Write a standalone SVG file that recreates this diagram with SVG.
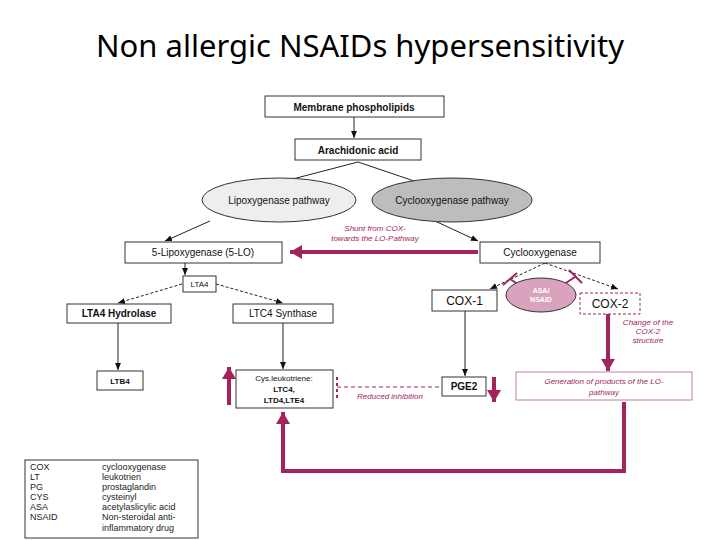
<svg xmlns="http://www.w3.org/2000/svg" width="720" height="540" viewBox="0 0 720 540">
<defs>
<marker id="a" markerWidth="8" markerHeight="8" refX="7" refY="4" orient="auto" markerUnits="userSpaceOnUse"><path d="M0,1 L7,4 L0,7z" fill="#111"/></marker>
<marker id="m" markerWidth="14" markerHeight="14" refX="12" refY="7" orient="auto" markerUnits="userSpaceOnUse"><path d="M0,0 L12,7 L0,14z" fill="#a3235f"/></marker>
</defs>
<style>
.b{fill:#fff;stroke:#333;stroke-width:1}
.t{font-family:"Liberation Sans",Arial,sans-serif;font-size:10px;font-weight:bold;fill:#111;text-anchor:middle}
.n{font-weight:normal}
.s8{font-size:8px}
.s12{font-size:12px}
.i{font-family:"Liberation Sans",Arial,sans-serif;font-size:8px;font-style:italic;fill:#a3235f;text-anchor:middle}
.l{stroke:#222;stroke-width:1;fill:none}
.d{stroke:#222;stroke-width:1;fill:none;stroke-dasharray:3,2}
.p{stroke:#a3235f;stroke-width:4;fill:none}
.g{font-family:"Liberation Sans",Arial,sans-serif;font-size:9px;fill:#222}
</style>
<rect width="720" height="540" fill="#fff"/>
<text x="360" y="57" font-family="Noto Sans,sans-serif" font-size="31" text-anchor="middle" fill="#000">Non allergic NSAIDs hypersensitivity</text>
<g id="connectors">
<line class="l" x1="354" y1="117" x2="354" y2="138" marker-end="url(#a)"/>
<line class="l" x1="358" y1="162" x2="285" y2="181"/>
<line class="l" x1="358" y1="162" x2="420" y2="183"/>
<line class="l" x1="210" y1="221" x2="165" y2="241" marker-end="url(#a)"/>
<line class="l" x1="435" y1="221" x2="478" y2="241" marker-end="url(#a)"/>
<line class="p" x1="478" y1="252" x2="290" y2="252" marker-end="url(#m)"/>
<line class="l" x1="185" y1="263" x2="185" y2="275" marker-end="url(#a)"/>
<line class="d" x1="182" y1="284" x2="118" y2="303" marker-end="url(#a)"/>
<line class="d" x1="216" y1="284" x2="283" y2="303" marker-end="url(#a)"/>
<line class="l" x1="118" y1="323" x2="118" y2="370" marker-end="url(#a)"/>
<line class="l" x1="283" y1="323" x2="283" y2="369" marker-end="url(#a)"/>
<line class="p" x1="229" y1="405" x2="229" y2="367" marker-end="url(#m)"/>
<polyline class="p" points="624,402 624,471 283,471 283,412" marker-end="url(#m)"/>
<line x1="337" y1="387" x2="441" y2="387" stroke="#a3235f" stroke-width="1" stroke-dasharray="4,3"/>
<line x1="337" y1="377" x2="337" y2="398" stroke="#a3235f" stroke-width="2" stroke-dasharray="3,3"/>
<line class="p" x1="494" y1="377" x2="494" y2="402" marker-end="url(#m)"/>
<line class="l" x1="465" y1="311" x2="465" y2="376" marker-end="url(#a)"/>
<line class="d" x1="545" y1="263" x2="490" y2="289" marker-end="url(#a)"/>
<line class="d" x1="545" y1="263" x2="618" y2="289" marker-end="url(#a)"/>
<path d="M530,292 L510,279 M503,285 L517,273" stroke="#a3235f" stroke-width="2" fill="none"/>
<path d="M552,292 L575,277 M569,270 L582,283" stroke="#a3235f" stroke-width="2" fill="none"/>
<line class="p" x1="608" y1="314" x2="608" y2="371" marker-end="url(#m)"/>
</g>
<text class="i" x="375" y="231">Shunt from COX-</text>
<text class="i" x="375" y="241">towards the LO-Pathway</text>
<text class="i" x="390" y="399">Reduced inhibition</text>
<text class="i" x="648" y="325">Change of the</text>
<text class="i" x="648" y="334">COX-2</text>
<text class="i" x="648" y="343">structure</text>
<g id="mp"><rect class="b" x="265" y="96" width="179" height="21"/><text class="t" x="354" y="110.5">Membrane phospholipids</text></g>
<g id="aa"><rect class="b" x="295" y="139" width="126" height="21"/><text class="t" x="358" y="153.5">Arachidonic acid</text></g>
<g id="lp"><ellipse cx="279" cy="200" rx="77" ry="22" fill="#eee" stroke="#333"/><text class="t n" x="279" y="203.5">Lipoxygenase pathway</text></g>
<g id="cp"><ellipse cx="452" cy="200" rx="80" ry="22" fill="#bdbdbd" stroke="#333"/><text class="t n" x="452" y="203.5">Cyclooxygenase pathway</text></g>
<g id="lo"><rect class="b" x="125" y="242" width="157" height="21"/><text class="t n" x="203" y="256">5-Lipoxygenase (5-LO)</text></g>
<g id="cox"><rect class="b" x="480" y="242" width="120" height="21"/><text class="t n" x="540" y="256">Cyclooxygenase</text></g>
<g id="lta4"><rect class="b" x="183" y="276" width="33" height="16"/><text class="t n s8" x="199.5" y="287">LTA4</text></g>
<g id="lh"><rect class="b" x="67" y="304" width="104" height="19"/><text class="t" x="119" y="317">LTA4 Hydrolase</text></g>
<g id="ls"><rect class="b" x="233" y="304" width="100" height="19"/><text class="t n" x="283" y="317">LTC4 Synthase</text></g>
<g id="ltb4"><rect class="b" x="97" y="371" width="46" height="19"/><text class="t s8" x="120" y="384">LTB4</text></g>
<g id="cys"><rect class="b" x="236" y="370" width="97" height="38"/><text class="t n s8" x="284" y="381">Cys.leukotriene:</text><text class="t s8" x="284" y="392">LTC4,</text><text class="t s8" x="284" y="403">LTD4,LTE4</text></g>
<g id="pge2"><rect class="b" x="442" y="377" width="44" height="19"/><text class="t" x="464" y="390">PGE2</text></g>
<g id="cox1"><rect class="b" x="432" y="290" width="65" height="21"/><text class="t n s12" x="464.5" y="305">COX-1</text></g>
<g id="asa"><ellipse cx="541" cy="295" rx="35" ry="17" fill="#d9a3bd" stroke="#333"/><text class="t" x="541" y="293" style="font-size:7px;fill:#fff">ASA/</text><text class="t" x="541" y="302" style="font-size:7px;fill:#fff">NSAID</text></g>
<g id="cox2"><rect x="580" y="293" width="60" height="21" fill="#fff" stroke="#a3235f" stroke-dasharray="3,2"/><text class="t n s12" x="610" y="308">COX-2</text></g>
<g id="gen"><rect x="516" y="372" width="176" height="28" fill="#fff" stroke="#c77a9c"/><text class="i" x="604" y="384">Generation of products of the LO-</text><text class="i" x="604" y="395">pathway</text></g>
<g id="legend"><rect x="25" y="460" width="173" height="78" fill="#fff" stroke="#333"/>
<text class="g" x="30" y="470">COX</text><text class="g" x="102" y="470">cyclooxygenase</text>
<text class="g" x="30" y="480">LT</text><text class="g" x="102" y="480">leukotrien</text>
<text class="g" x="30" y="490">PG</text><text class="g" x="102" y="490">prostaglandin</text>
<text class="g" x="30" y="500">CYS</text><text class="g" x="102" y="500">cysteinyl</text>
<text class="g" x="30" y="510">ASA</text><text class="g" x="102" y="510">acetylaslicylic acid</text>
<text class="g" x="30" y="520">NSAID</text><text class="g" x="102" y="520">Non-steroidal anti-</text>
<text class="g" x="102" y="531">inflammatory drug</text></g>
</svg>
